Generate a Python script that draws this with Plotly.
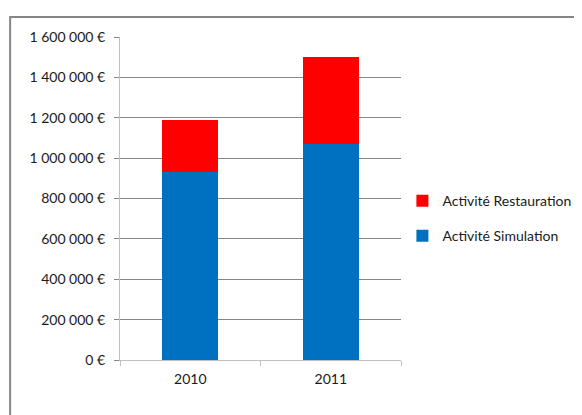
import plotly.graph_objects as go

years = ["2010", "2011"]
simulation = [932000, 1068000]
restauration = [255000, 432000]
tick_vals = [0, 200000, 400000, 600000, 800000, 1000000, 1200000, 1400000, 1600000]
tick_text = ["0 €", "200 000 €", "400 000 €", "600 000 €", "800 000 €",
             "1 000 000 €", "1 200 000 €", "1 400 000 €", "1 600 000 €"]

font = dict(family="Lato, Open Sans, sans-serif", size=14, color="#1a1a1a")

fig = go.Figure()
fig.add_trace(go.Bar(x=years, y=simulation, name="Activité Simulation",
                     marker=dict(color="#0070C0", line=dict(width=0)),
                     legendgroup="sim", legendrank=2))
fig.add_trace(go.Bar(x=years, y=restauration, name="Activité Restauration",
                     marker=dict(color="#FF0000", line=dict(width=0)),
                     legendgroup="rest", legendrank=1))

fig.update_layout(
    width=582, height=415,
    margin=dict(l=112, r=189, t=29, b=63),
    paper_bgcolor="white", plot_bgcolor="white",
    barmode="stack", bargap=0.6,
    font=font,
    showlegend=True,
    legend=dict(x=1.005, y=0.438, xanchor="left", yanchor="middle",
                traceorder="grouped", tracegroupgap=14,
                font=font, bgcolor="rgba(0,0,0,0)", itemwidth=30),
    xaxis=dict(showline=True, linecolor="#BFBFBF", linewidth=1,
               ticks="outside", tickson="boundaries", ticklen=5,
               tickcolor="#BFBFBF", showgrid=False, tickfont=font,
               ticklabelstandoff=6),
    yaxis=dict(range=[0, 1600000], tickvals=tick_vals, ticktext=tick_text,
               showline=True, linecolor="#BFBFBF", linewidth=1,
               showgrid=True, gridcolor="#868686", gridwidth=1,
               ticks="outside", ticklen=5, tickcolor="#868686",
               zeroline=False, tickfont=font, ticklabelstandoff=6),
    shapes=[dict(type="rect", xref="paper", yref="paper",
                 x0=-0.391, x1=1.8, y0=-0.5, y1=1.062,
                 line=dict(color="#868686", width=2), fillcolor="rgba(0,0,0,0)",
                 layer="below")],
)

fig.write_html("out.html")
